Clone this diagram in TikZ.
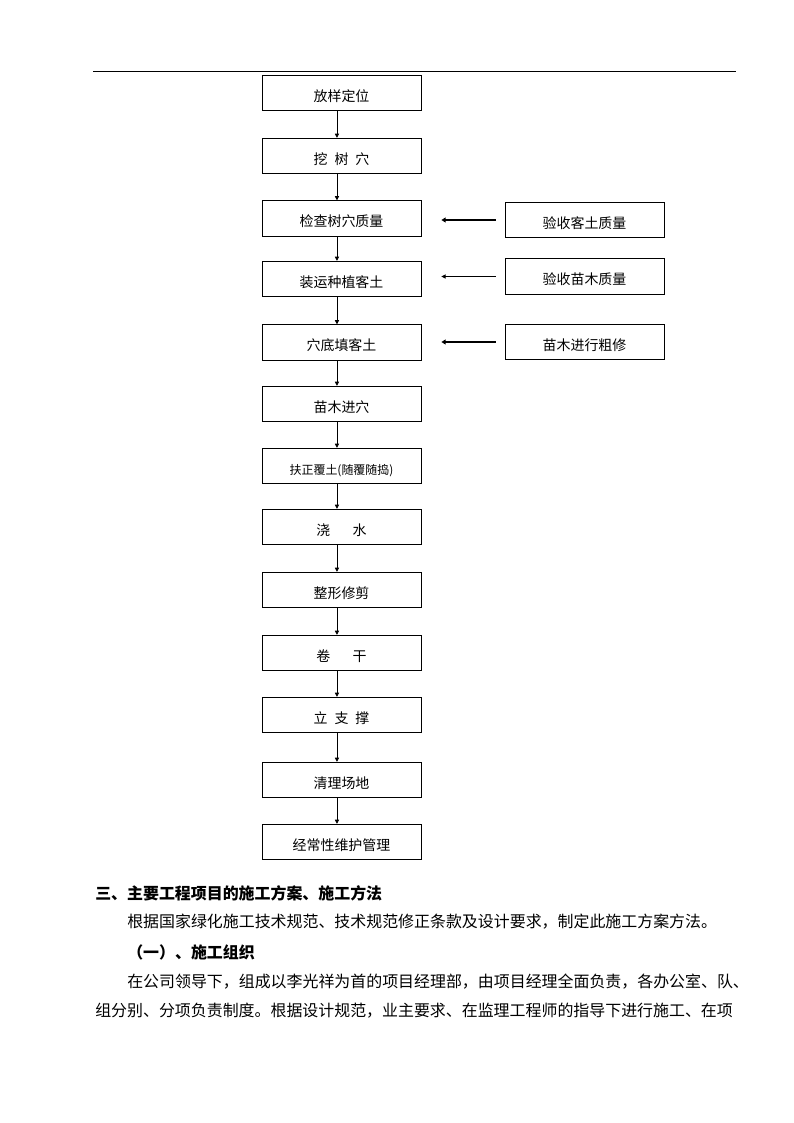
\documentclass[tikz,border=0pt]{standalone}
\usepackage{fontspec}
\setmainfont{Noto Sans CJK SC}
\usetikzlibrary{arrows.meta}

\begin{document}
\begin{tikzpicture}[x=0.2646mm,y=-0.2646mm,
  stepbox/.style={draw,line width=0.6pt,minimum width=42.07mm,minimum height=9.4mm,inner sep=0,text height=13.5pt,text depth=1.3pt,font=\fontsize{10.5pt}{12pt}\selectfont},
  flow/.style={line width=0.6pt,-{Triangle[length=1.1mm,width=1.1mm]}},
  sideflow/.style={line width=1.6pt,-{Triangle[length=1.1mm,width=1.3mm]},shorten >=5.3mm,shorten <=2.4mm},
  sideflowthin/.style={line width=0.6pt,-{Triangle[length=1.1mm,width=1.1mm]},shorten >=5.3mm,shorten <=2.4mm},
  bodytext/.style={anchor=west,inner sep=0,font=\fontsize{12pt}{14pt}\selectfont}]
\useasboundingbox (0,0) rectangle (794,1123);
\draw[line width=0.6pt] (93,71) -- (736,71);
\node[stepbox] (fangyang) at (341.5,93) {放样定位};
\node[stepbox] (wakeng) at (341.5,156) {挖\hspace{0.5em}树\hspace{0.5em}穴};
\node[stepbox] (jiancha) at (341.5,218.5) {检查树穴质量};
\node[stepbox] (zhuangyun) at (341.5,279) {装运种植客土};
\node[stepbox] (tiantu) at (341.5,342.5) {穴底填客土};
\node[stepbox] (jinxue) at (341.5,404) {苗木进穴};
\node[stepbox,font=\fontsize{9pt}{11pt}\selectfont] (fuzheng) at (341.5,466) {扶正覆土(随覆随捣)};
\node[stepbox] (jiaoshui) at (341.5,527) {浇\hspace{1.6em}水};
\node[stepbox] (xiujian) at (341.5,590) {整形修剪};
\node[stepbox] (juangan) at (341.5,653) {卷\hspace{1.6em}干};
\node[stepbox] (zhicheng) at (341.5,715) {立\hspace{0.5em}支\hspace{0.5em}撑};
\node[stepbox] (qingli) at (341.5,780) {清理场地};
\node[stepbox] (weihu) at (341.5,842) {经常性维护管理};
\node[stepbox] (yanketu) at (584.5,220) {验收客土质量};
\node[stepbox] (yanmiaomu) at (584.5,276.5) {验收苗木质量};
\node[stepbox] (cuxiu) at (584.5,342) {苗木进行粗修};
\draw[flow] ([xshift=-1.2mm]fangyang.south) -- ([xshift=-1.2mm]wakeng.north);
\draw[flow] ([xshift=-1.2mm]wakeng.south) -- ([xshift=-1.2mm]jiancha.north);
\draw[flow] ([xshift=-1.2mm]jiancha.south) -- ([xshift=-1.2mm]zhuangyun.north);
\draw[flow] ([xshift=-1.2mm]zhuangyun.south) -- ([xshift=-1.2mm]tiantu.north);
\draw[flow] ([xshift=-1.2mm]tiantu.south) -- ([xshift=-1.2mm]jinxue.north);
\draw[flow] ([xshift=-1.2mm]jinxue.south) -- ([xshift=-1.2mm]fuzheng.north);
\draw[flow] ([xshift=-1.2mm]fuzheng.south) -- ([xshift=-1.2mm]jiaoshui.north);
\draw[flow] ([xshift=-1.2mm]jiaoshui.south) -- ([xshift=-1.2mm]xiujian.north);
\draw[flow] ([xshift=-1.2mm]xiujian.south) -- ([xshift=-1.2mm]juangan.north);
\draw[flow] ([xshift=-1.2mm]juangan.south) -- ([xshift=-1.2mm]zhicheng.north);
\draw[flow] ([xshift=-1.2mm]zhicheng.south) -- ([xshift=-1.2mm]qingli.north);
\draw[flow] ([xshift=-1.2mm]qingli.south) -- ([xshift=-1.2mm]weihu.north);
\draw[sideflow] (yanketu.west) -- (yanketu.west -| jiancha.east);
\draw[sideflowthin] (yanmiaomu.west) -- (yanmiaomu.west -| zhuangyun.east);
\draw[sideflow] (cuxiu.west) -- (cuxiu.west -| tiantu.east);
\node[bodytext,font=\fontsize{12pt}{14pt}\selectfont\bfseries] (sanbiaoti) at (95,893) {三、主要工程项目的施工方案、施工方法};
\node[bodytext] (genju) at (127,922) {根据国家绿化施工技术规范、技术规范修正条款及设计要求，制定此施工方案方法。};
\node[bodytext,font=\fontsize{12pt}{14pt}\selectfont\bfseries] (zuzhi) at (127,952) {（一）、施工组织};
\node[bodytext] (lingdao) at (127,982) {在公司领导下，组成以李光祥为首的项目经理部，由项目经理全面负责，各办公室、队、};
\node[bodytext] (fenxiang) at (95,1011) {组分别、分项负责制度。根据设计规范，业主要求、在监理工程师的指导下进行施工、在项};
\end{tikzpicture}
\end{document}
